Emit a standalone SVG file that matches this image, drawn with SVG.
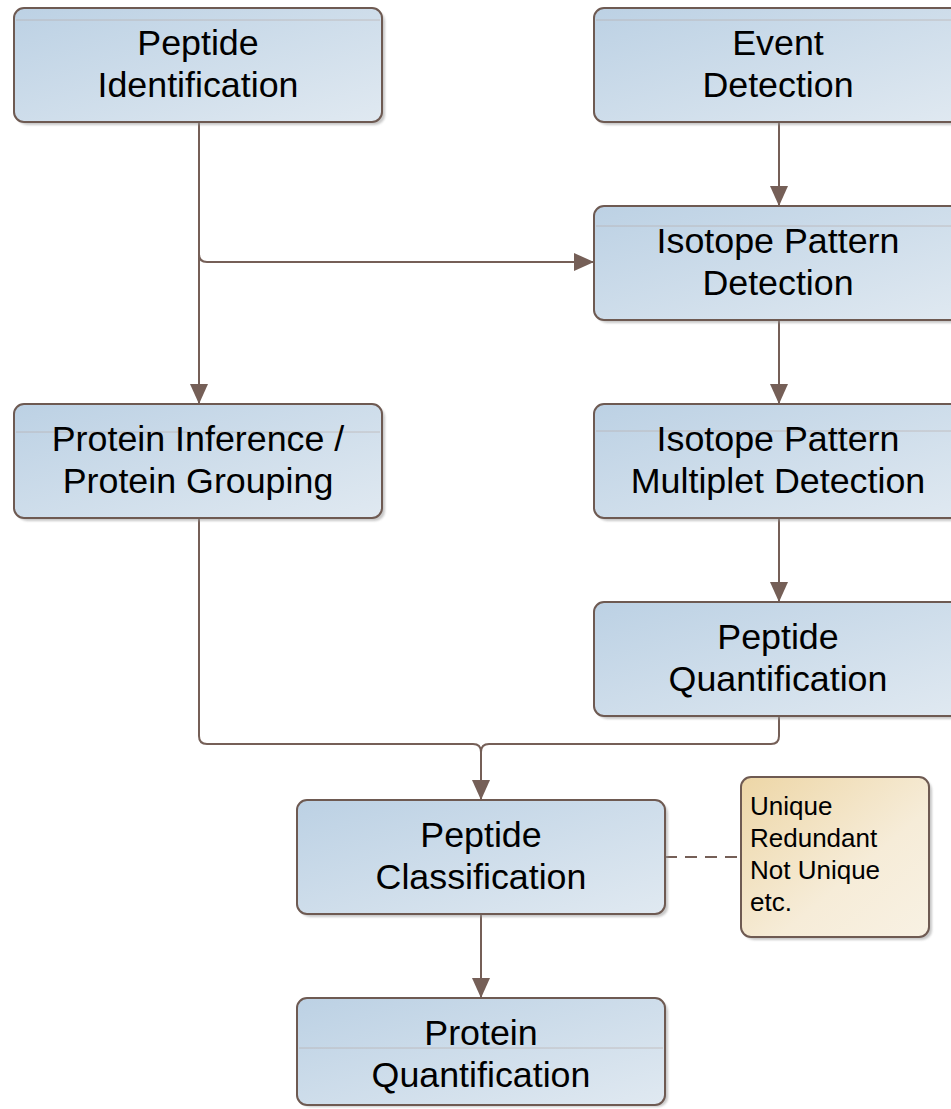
<svg xmlns="http://www.w3.org/2000/svg" width="951" height="1109" viewBox="0 0 951 1109">
<defs>
<linearGradient id="gBlue" x1="0" y1="0" x2="1" y2="1">
<stop offset="0" stop-color="#bcd1e4"/>
<stop offset="1" stop-color="#e0e9f1"/>
</linearGradient>
<linearGradient id="gNote" x1="0" y1="0" x2="1" y2="1">
<stop offset="0" stop-color="#edd6a6"/>
<stop offset="0.6" stop-color="#f6ecd8"/>
<stop offset="1" stop-color="#f8f1e3"/>
</linearGradient>
<filter id="sh" x="-5%" y="-5%" width="115%" height="115%">
<feGaussianBlur stdDeviation="1.2"/>
</filter>
<marker id="arr" viewBox="0 0 20 18" refX="20" refY="9" markerWidth="20" markerHeight="18" markerUnits="userSpaceOnUse" orient="auto">
<path d="M0,0 L20,9 L0,18 Z" fill="#755f57"/>
</marker>
</defs>
<style>
.box{fill:url(#gBlue);stroke:#6e5a52;stroke-width:2}
.note{fill:url(#gNote);stroke:#6e5a52;stroke-width:2}
.shadow{fill:#9a9a9a;opacity:0.55;filter:url(#sh)}
.gloss{stroke:#b5a8a4;stroke-width:1;opacity:0.6}
.t{font-family:"Liberation Sans",Arial,sans-serif;font-size:35.8px;fill:#000;text-anchor:middle}
.nt{font-family:"Liberation Sans",Arial,sans-serif;font-size:26px;fill:#000}
.c{fill:none;stroke:#755f57;stroke-width:2}
.d{fill:none;stroke:#755f57;stroke-width:2;stroke-dasharray:12,8}
</style>
<rect width="951" height="1109" fill="#ffffff"/>

<g id="connectors">
<path class="c" d="M199,122 L199,404" marker-end="url(#arr)"/>
<path class="c" d="M199,254 Q199,262 207,262 L594,262" marker-end="url(#arr)"/>
<path class="c" d="M779,122 L779,206" marker-end="url(#arr)"/>
<path class="c" d="M779,320 L779,404" marker-end="url(#arr)"/>
<path class="c" d="M779,518 L779,602" marker-end="url(#arr)"/>
<path class="c" d="M199,518 L199,736 Q199,744 207,744 L473,744 Q481,744 481,752 L481,800" marker-end="url(#arr)"/>
<path class="c" d="M779,716 L779,736 Q779,744 771,744 L489,744 Q481,744 481,752"/>
<path class="c" d="M481,914 L481,998" marker-end="url(#arr)"/>
<path class="d" d="M665,857 L741,857"/>
</g>

<g id="peptide-identification">
<rect class="shadow" x="17" y="11" width="368" height="114" rx="10"/>
<rect class="box" x="14" y="8" width="368" height="114" rx="10"/>
<line class="gloss" x1="16" y1="20" x2="380" y2="20"/>
<text class="t" x="198" y="55">Peptide</text>
<text class="t" x="198" y="97">Identification</text>
</g>

<g id="event-detection">
<rect class="shadow" x="597" y="11" width="368" height="114" rx="10"/>
<rect class="box" x="594" y="8" width="368" height="114" rx="10"/>
<line class="gloss" x1="596" y1="20" x2="960" y2="20"/>
<text class="t" x="778" y="55">Event</text>
<text class="t" x="778" y="97">Detection</text>
</g>

<g id="isotope-pattern-detection">
<rect class="shadow" x="597" y="209" width="368" height="114" rx="10"/>
<rect class="box" x="594" y="206" width="368" height="114" rx="10"/>
<line class="gloss" x1="596" y1="226" x2="960" y2="226"/>
<text class="t" x="778" y="253">Isotope Pattern</text>
<text class="t" x="778" y="295">Detection</text>
</g>

<g id="protein-inference">
<rect class="shadow" x="17" y="407" width="368" height="114" rx="10"/>
<rect class="box" x="14" y="404" width="368" height="114" rx="10"/>
<line class="gloss" x1="16" y1="432" x2="380" y2="432"/>
<text class="t" x="198" y="451">Protein Inference /</text>
<text class="t" x="198" y="493">Protein Grouping</text>
</g>

<g id="isotope-pattern-multiplet-detection">
<rect class="shadow" x="597" y="407" width="368" height="114" rx="10"/>
<rect class="box" x="594" y="404" width="368" height="114" rx="10"/>
<line class="gloss" x1="596" y1="431" x2="960" y2="431"/>
<text class="t" x="778" y="451">Isotope Pattern</text>
<text class="t" x="778" y="493">Multiplet Detection</text>
</g>

<g id="peptide-quantification">
<rect class="shadow" x="597" y="605" width="368" height="114" rx="10"/>
<rect class="box" x="594" y="602" width="368" height="114" rx="10"/>
<text class="t" x="778" y="649">Peptide</text>
<text class="t" x="778" y="691">Quantification</text>
</g>

<g id="peptide-classification">
<rect class="shadow" x="300" y="803" width="368" height="114" rx="10"/>
<rect class="box" x="297" y="800" width="368" height="114" rx="10"/>
<text class="t" x="481" y="847">Peptide</text>
<text class="t" x="481" y="889">Classification</text>
</g>

<g id="note">
<rect class="shadow" x="744" y="780" width="188" height="160" rx="10"/>
<rect class="note" x="741" y="777" width="188" height="160" rx="10"/>
<text class="nt" x="750" y="815">Unique</text>
<text class="nt" x="750" y="847">Redundant</text>
<text class="nt" x="750" y="879">Not Unique</text>
<text class="nt" x="750" y="911">etc.</text>
</g>

<g id="protein-quantification">
<rect class="shadow" x="300" y="1001" width="368" height="106" rx="10"/>
<rect class="box" x="297" y="998" width="368" height="107" rx="10"/>
<line class="gloss" x1="299" y1="1048" x2="663" y2="1048"/>
<text class="t" x="481" y="1045">Protein</text>
<text class="t" x="481" y="1087">Quantification</text>
</g>
</svg>
